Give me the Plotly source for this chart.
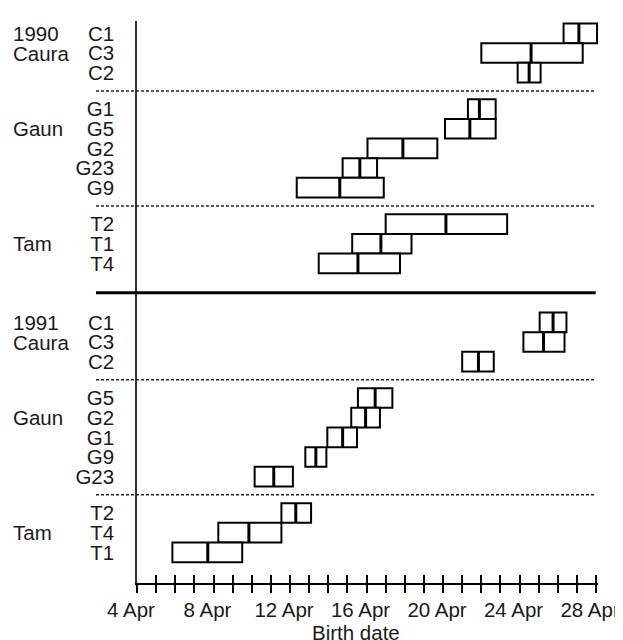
import plotly.graph_objects as go

# ---------------- data (birth date, day of April) ----------------
years = ["1990", "1991"]
groups = ["Caura", "Gaun", "Tam"]

# 1990
rows_1990_caura = ["C1", "C3", "C2"]
lo_1990_caura = [26.3, 22.0, 23.9]
med_1990_caura = [27.1, 24.6, 24.5]
hi_1990_caura = [28.05, 27.3, 25.1]

rows_1990_gaun = ["G1", "G5", "G2", "G23", "G9"]
lo_1990_gaun = [21.3, 20.1, 16.05, 14.75, 12.35]
med_1990_gaun = [21.9, 21.4, 17.9, 15.65, 14.6]
hi_1990_gaun = [22.75, 22.75, 19.7, 16.55, 16.9]

rows_1990_tam = ["T2", "T1", "T4"]
lo_1990_tam = [17.0, 15.25, 13.5]
med_1990_tam = [20.15, 16.75, 15.55]
hi_1990_tam = [23.35, 18.35, 17.75]

# 1991
rows_1991_caura = ["C1", "C3", "C2"]
lo_1991_caura = [25.05, 24.2, 21.0]
med_1991_caura = [25.75, 25.25, 21.85]
hi_1991_caura = [26.45, 26.35, 22.65]

rows_1991_gaun = ["G5", "G2", "G1", "G9", "G23"]
lo_1991_gaun = [15.55, 15.2, 13.95, 12.8, 10.15]
med_1991_gaun = [16.45, 15.95, 14.75, 13.35, 11.15]
hi_1991_gaun = [17.35, 16.7, 15.5, 13.9, 12.15]

rows_1991_tam = ["T2", "T4", "T1"]
lo_1991_tam = [11.55, 8.25, 5.85]
med_1991_tam = [12.3, 9.85, 7.7]
hi_1991_tam = [13.1, 11.55, 9.5]

tick_days = [4, 8, 12, 16, 20, 24, 28]
tick_labels = ["4 Apr", "8 Apr", "12 Apr", "16 Apr", "20 Apr", "24 Apr", "28 Apr"]
x_title = "Birth date"

data = {
    "1990": [
        (rows_1990_caura, lo_1990_caura, med_1990_caura, hi_1990_caura),
        (rows_1990_gaun, lo_1990_gaun, med_1990_gaun, hi_1990_gaun),
        (rows_1990_tam, lo_1990_tam, med_1990_tam, hi_1990_tam),
    ],
    "1991": [
        (rows_1991_caura, lo_1991_caura, med_1991_caura, hi_1991_caura),
        (rows_1991_gaun, lo_1991_gaun, med_1991_gaun, hi_1991_gaun),
        (rows_1991_tam, lo_1991_tam, med_1991_tam, hi_1991_tam),
    ],
}

# ---------------- layout of rows ----------------
GROUP_GAP = 1.85
YEAR_GAP = 3.0

ys, labels, los, meds, his = [], [], [], [], []
dotted, thick, annots = [], [], []
pos = 0.0
for yi, yr in enumerate(years):
    if yi > 0:
        thick.append(pos - 1 + YEAR_GAP / 2)
        pos += YEAR_GAP - 1
    for gi, (rows, lo, md, hi) in enumerate(data[yr]):
        if gi > 0:
            dotted.append(pos - 1 + GROUP_GAP / 2)
            pos += GROUP_GAP - 1
        start = pos
        for r, a, m, b in zip(rows, lo, md, hi):
            ys.append(pos)
            labels.append(r)
            los.append(a)
            meds.append(m)
            his.append(b)
            pos += 1
        if gi == 0:
            annots.append((yr, start))
        annots.append((groups[gi], start + 1))

y_top = -0.63
y_bot = 27.96

FONT = "Liberation Sans, Arial, sans-serif"
TXT = "#1a1a1a"
FS = 20.5

fig = go.Figure()

fig.add_trace(go.Bar(
    y=ys, x=[b - a for a, b in zip(los, his)], base=los, orientation="h",
    width=1.0, marker=dict(color="white", line=dict(color="black", width=2)),
    showlegend=False, hoverinfo="skip",
))

mx, my = [], []
for y, m in zip(ys, meds):
    mx += [m, m, None]
    my += [y - 0.5, y + 0.5, None]
fig.add_trace(go.Scatter(x=mx, y=my, mode="lines", line=dict(color="black", width=3),
                         showlegend=False, hoverinfo="skip"))

# helper trace for the inside half of the ticks
fig.add_trace(go.Scatter(x=[4], y=[0], xaxis="x2", mode="markers",
                         marker=dict(opacity=0), showlegend=False, hoverinfo="skip"))

shapes = []
for s in dotted:
    shapes.append(dict(type="line", xref="paper", yref="y", x0=-0.089, x1=0.995, y0=s, y1=s,
                       line=dict(color="#222", width=1.5, dash="3px,2px")))
for s in thick:
    shapes.append(dict(type="line", xref="paper", yref="y", x0=-0.089, x1=0.995, y0=s, y1=s,
                       line=dict(color="black", width=3)))

annotations = []
for text, y in annots:
    annotations.append(dict(text=text, xref="paper", yref="y", x=-0.273, y=y,
                            xanchor="left", yanchor="middle", showarrow=False,
                            font=dict(family=FONT, size=FS, color=TXT)))
annotations.append(dict(text=x_title, xref="paper", yref="paper", x=0.475, y=-0.064,
                        xanchor="center", yanchor="top", showarrow=False,
                        font=dict(family=FONT, size=FS, color=TXT)))

xr = [4, 28.1]
fig.update_layout(
    width=615, height=632,
    margin=dict(l=129, r=25, t=13, b=57, pad=0),
    paper_bgcolor="white", plot_bgcolor="white",
    barmode="overlay",
    shapes=shapes, annotations=annotations,
    font=dict(family=FONT, size=FS, color=TXT),
    xaxis=dict(range=xr, tickmode="array", tickvals=tick_days, ticktext=tick_labels,
               ticks="outside", ticklen=8, tickwidth=1.5, tickcolor="black",
               minor=dict(ticks="outside", dtick=1, tick0=4, ticklen=8, tickwidth=1.5, tickcolor="black"),
               showline=True, linecolor="black", linewidth=1.5, showgrid=False, zeroline=False,
               automargin=False,
               ticklabelshift=-6, tickfont=dict(family=FONT, size=FS, color=TXT)),
    xaxis2=dict(range=xr, overlaying="x", anchor="y", side="bottom", tickmode="linear",
                tick0=4, dtick=1, ticks="inside", ticklen=8, tickwidth=1.5, tickcolor="black",
                showticklabels=False, showline=False, showgrid=False, zeroline=False,
                automargin=False),
    yaxis=dict(range=[y_bot, y_top], tickmode="array", tickvals=ys, ticktext=labels,
               ticks="outside", ticklen=17, tickcolor="rgba(0,0,0,0)",
               showline=True, linecolor="#333", linewidth=1.5, showgrid=False, zeroline=False,
               automargin=False,
               tickfont=dict(family=FONT, size=FS, color=TXT)),
)

fig.write_html("out.html")
